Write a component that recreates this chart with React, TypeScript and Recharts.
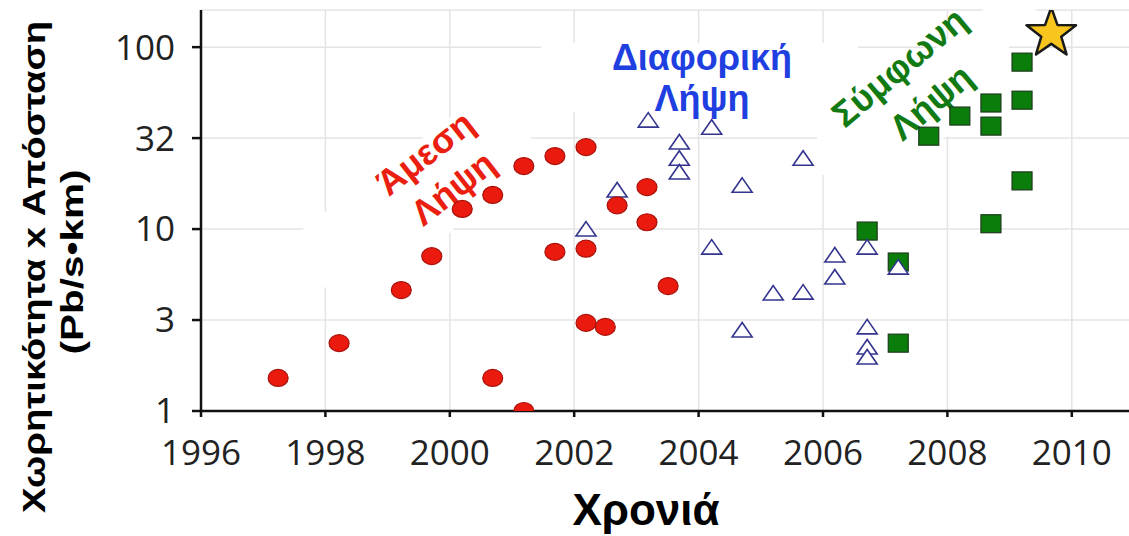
import React from 'react';
import { ScatterChart, Scatter, XAxis, YAxis, CartesianGrid, Customized } from 'recharts';

// Άμεση Λήψη (red circles)
const directYears = [1997.24, 1998.22, 1999.22, 1999.71, 2000.2, 2000.69, 2000.69, 2001.19, 2001.19, 2001.69, 2001.69, 2002.19, 2002.19, 2002.19, 2002.5, 2002.69, 2003.17, 2003.17, 2003.51];
const directValues = [1.52, 2.36, 4.62, 7.1, 12.9, 15.4, 1.52, 22.2, 1.0, 25.2, 7.5, 28.2, 7.8, 3.05, 2.9, 13.5, 17.0, 10.9, 4.86];

// Διαφορική Λήψη (open triangles)
const diffYears = [2003.19, 2004.21, 2003.69, 2003.69, 2003.69, 2002.69, 2004.7, 2002.19, 2004.21, 2005.68, 2006.19, 2006.71, 2006.19, 2007.21, 2005.2, 2005.68, 2006.71, 2006.71, 2006.71, 2004.7];
const diffValues = [39.7, 36.3, 30.1, 24.5, 20.6, 16.4, 17.4, 10, 7.96, 24.5, 7.2, 7.96, 5.45, 6.18, 4.45, 4.5, 2.9, 2.25, 1.98, 2.79];

// Σύμφωνη Λήψη (green squares)
const coherentYears = [2009.2, 2009.2, 2008.7, 2008.7, 2008.2, 2007.7, 2009.2, 2008.7, 2006.71, 2007.21, 2007.21];
const coherentValues = [82.7, 51.1, 49.3, 36.8, 41.8, 32.4, 18.4, 10.7, 9.75, 6.59, 2.36];

// record (star)
const recordYears = [2009.67];
const recordValues = [119];

const xTicks = [1996, 1998, 2000, 2002, 2004, 2006, 2008, 2010];
const yTicks = [1, 3.1623, 10, 31.623, 100];
const yTickLabels = ['1', '3', '10', '32', '100'];

const toPoints = (xs: number[], ys: number[]) => xs.map((year, i) => ({ year, value: ys[i] }));

const directData = toPoints(directYears, directValues);
const diffData = toPoints(diffYears, diffValues);
const coherentData = toPoints(coherentYears, coherentValues);
const recordData = toPoints(recordYears, recordValues);

const tickFont = { fontSize: 35, fill: '#222', fontFamily: '"Open Sans", sans-serif' };
const titleFont = '"Liberation Sans", Arial, sans-serif';

const Ellipse = (props: any) => (
    <ellipse cx={props.cx} cy={props.cy} rx={10} ry={8.5} fill="#ea1a0e" stroke="#a8120a" strokeWidth={1.2} />
);

const Triangle = (props: any) => {
    const { cx, cy } = props;
    return (
        <polygon
            points={`${cx},${cy - 7.5} ${cx - 10},${cy + 7} ${cx + 10},${cy + 7}`}
            fill="#fff"
            stroke="#35358f"
            strokeWidth={1.6}
        />
    );
};

const Square = (props: any) => (
    <rect x={props.cx - 10} y={props.cy - 9} width={20} height={18} fill="#0b7d0b" stroke="#1c3a1c" strokeWidth={1.2} />
);

const Star = (props: any) => {
    const { cx, cy } = props;
    const pts = [];
    for (let i = 0; i < 10; i++) {
        const a = (-90 + i * 36) * Math.PI / 180;
        const r = i % 2 === 0 ? 26 : 10.5;
        pts.push(`${cx + r * Math.cos(a)},${cy + r * Math.sin(a)}`);
    }
    return <polygon points={pts.join(' ')} fill="#f7c51e" stroke="#1a1a1a" strokeWidth={2.5} strokeLinejoin="round" />;
};

// white label backgrounds that hide the grid behind the annotations
const LabelBackdrops = () => (
    <g fill="#fff">
        <polygon points="547,43 858,43 858,112 547,112" />
        <polygon points="547,43 547,125 531,138 450,233 330,285 302,300 302,230" />
        <polygon points="817,112 858,112 990,4 1040,4 1000,60 947,137 823,175 817,175" />
    </g>
);

const Titles = () => (
    <g fontFamily={titleFont} fontWeight="bold">
        <text x={34} y={267} transform="rotate(-90 34 267)" textAnchor="middle" dominantBaseline="central" fontSize={31} fill="#000" textLength={492} lengthAdjust="spacingAndGlyphs">
            Χωρητικότητα x Απόσταση
        </text>
        <text x={72} y={262} transform="rotate(-90 72 262)" textAnchor="middle" dominantBaseline="central" fontSize={31} fill="#000" textLength={185} lengthAdjust="spacingAndGlyphs">
            (Pb/s•km)
        </text>
        <text x={646} y={525} textAnchor="middle" fontSize={44} fill="#000">Χρονιά</text>

        <g fill="#ea1f10" fontSize={36} textAnchor="middle">
            <text x={425} y={153} transform="rotate(-38 425 153)" dominantBaseline="central">Άμεση</text>
            <text x={453} y={188} transform="rotate(-38 453 188)" dominantBaseline="central">Λήψη</text>
        </g>
        <g fill="#1f3fe0" fontSize={36} textAnchor="middle">
            <text x={702} y={70}>Διαφορική</text>
            <text x={702} y={111}>Λήψη</text>
        </g>
        <g fill="#127a12" fontSize={36} textAnchor="middle">
            <text x={899} y={67} transform="rotate(-40 899 67)" dominantBaseline="central">Σύμφωνη</text>
            <text x={931} y={102} transform="rotate(-40 931 102)" dominantBaseline="central">Λήψη</text>
        </g>
    </g>
);

const App = () => {
    return (
        <div style={{ position: 'absolute', left: 0, top: 0, width: 1129, height: 536, overflow: 'hidden', background: '#fff' }}>
            <ScatterChart width={1134} height={536} margin={{ top: 10, right: 0, left: 0, bottom: 0 }}>
                <CartesianGrid stroke="#e4e4e4" strokeWidth={1.5} />
                <Customized component={LabelBackdrops} />
                <XAxis
                    type="number"
                    dataKey="year"
                    domain={[1996, 2011]}
                    ticks={xTicks}
                    height={125}
                    tickSize={6}
                    tickMargin={23}
                    tick={tickFont}
                    axisLine={{ stroke: '#111', strokeWidth: 2.5 }}
                    tickLine={{ stroke: '#111', strokeWidth: 2.5 }}
                />
                <YAxis
                    type="number"
                    dataKey="value"
                    scale="log"
                    domain={[1, 160]}
                    allowDataOverflow
                    ticks={yTicks}
                    tickFormatter={(v: number) => yTickLabels[yTicks.indexOf(v)]}
                    width={201}
                    tickSize={9}
                    tickMargin={17}
                    tick={tickFont}
                    axisLine={{ stroke: '#111', strokeWidth: 2.5 }}
                    tickLine={{ stroke: '#111', strokeWidth: 2.5 }}
                />
                <Scatter data={coherentData} shape={Square} isAnimationActive={false} />
                <Scatter data={diffData} shape={Triangle} isAnimationActive={false} />
                <Scatter data={directData} shape={Ellipse} isAnimationActive={false} />
                <Scatter data={recordData} shape={Star} isAnimationActive={false} />
                <Customized component={Titles} />
            </ScatterChart>
        </div>
    );
};

export default App;
